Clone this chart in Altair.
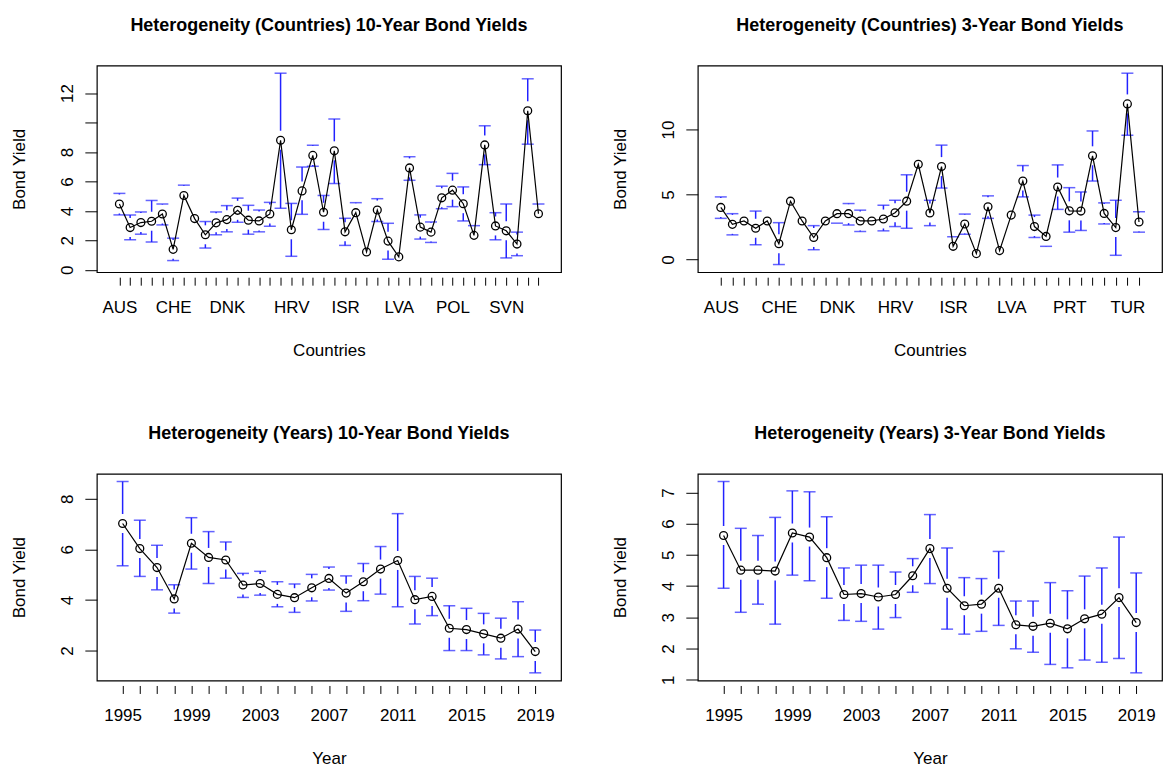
import altair as alt
import pandas as pd

FONT = "Liberation Sans"
BLUE = "#2222ff"

# ---- country panels -------------------------------------------------------
countries_10y = ["AUS", "AUT", "BEL", "BGR", "CAN", "CHE", "CHL", "CYP", "CZE", "DEU",
                 "DNK", "ESP", "FIN", "FRA", "GBR", "GRC", "HRV", "HUN", "IDN", "IRL",
                 "ISL", "ISR", "ITA", "JPN", "KOR", "LTU", "LVA", "MEX", "NLD", "NOR",
                 "NZL", "POL", "PRT", "ROU", "RUS", "SVK", "SVN", "SWE", "TUR", "USA"]
shown_10y = ["AUS", "CHE", "DNK", "HRV", "ISR", "LVA", "POL", "SVN"]
mean_10y_c = [4.47, 2.87, 3.21, 3.30, 3.79, 1.39, 5.05, 3.48, 2.38, 3.19,
              3.41, 4.04, 3.37, 3.32, 3.79, 8.80, 2.72, 5.36, 7.77, 3.91,
              8.08, 2.58, 3.88, 1.21, 4.06, 1.95, 0.88, 6.92, 2.90, 2.56,
              4.89, 5.41, 4.49, 2.34, 8.48, 2.98, 2.65, 1.75, 10.80, 3.81]
lo_10y_c = [3.73, 2.04, 2.42, 1.89, 3.05, 0.63, 4.60, 3.30, 1.48, 2.38,
            2.58, 3.23, 2.42, 2.58, 2.96, 4.18, 0.92, 3.77, 7.03, 2.74,
            5.86, 1.66, 3.40, 1.05, 3.28, 0.72, 0.36, 6.08, 2.09, 1.86,
            4.15, 4.29, 3.32, 1.70, 7.14, 2.04, 0.81, 0.96, 8.53, 3.20]
hi_10y_c = [5.19, 3.73, 3.93, 4.71, 4.47, 2.15, 5.75, 3.70, 3.28, 3.93,
            4.36, 4.87, 4.38, 4.06, 4.58, 13.35, 4.51, 6.98, 8.46, 5.05,
            10.24, 3.50, 4.56, 1.40, 4.83, 3.16, 1.30, 7.68, 3.73, 3.25,
            5.68, 6.55, 5.63, 3.00, 9.78, 3.88, 4.47, 2.56, 12.97, 4.47]

countries_3y = ["AUS", "AUT", "BEL", "BGR", "CAN", "CHE", "CHL", "CYP", "CZE", "DEU",
                "DNK", "ESP", "FIN", "FRA", "GBR", "HRV", "HUN", "IDN", "IRL", "ISL",
                "ISR", "ITA", "JPN", "KOR", "LTU", "LVA", "MEX", "NLD", "NZL", "POL",
                "PRT", "ROU", "RUS", "SVK", "SWE", "TUR", "USA"]
shown_3y = ["AUS", "CHE", "DNK", "HRV", "ISR", "LVA", "PRT", "TUR"]
mean_3y_c = [4.01, 2.71, 2.97, 2.41, 2.97, 1.22, 4.49, 2.97, 1.70, 2.97,
             3.53, 3.53, 2.97, 2.97, 3.12, 3.60, 4.49, 7.33, 3.58, 7.15,
             1.02, 2.74, 0.46, 4.06, 0.69, 3.42, 6.04, 2.54, 1.78, 5.58,
             3.75, 3.73, 7.98, 3.55, 2.46, 11.97, 2.89]
lo_3y_c = [3.17, 1.90, 2.70, 1.14, 2.70, -0.38, 4.00, 2.70, 0.76, 2.30,
           2.80, 2.66, 2.16, 2.50, 2.21, 2.54, 2.41, 6.90, 2.61, 5.50,
           0.30, 1.95, 0.10, 3.17, 0.00, 2.90, 4.82, 1.70, 1.02, 3.86,
           2.11, 2.24, 6.04, 2.74, 0.33, 9.56, 2.11]
hi_3y_c = [4.82, 3.53, 3.25, 3.73, 3.25, 2.84, 5.20, 3.25, 2.61, 3.63,
           4.25, 4.31, 3.80, 3.45, 4.18, 4.56, 6.52, 7.98, 4.56, 8.80,
           1.75, 3.50, 0.90, 4.90, 1.20, 4.00, 7.23, 3.42, 2.40, 7.28,
           5.53, 5.20, 9.89, 4.36, 4.56, 14.33, 3.68]

# ---- year panels ----------------------------------------------------------
years = list(range(1995, 2020))
mean_10y_y = [7.02, 6.03, 5.28, 4.04, 6.24, 5.68, 5.58, 4.59, 4.65, 4.22, 4.09, 4.48, 4.85,
              4.27, 4.72, 5.22, 5.56, 4.01, 4.14, 2.88, 2.83, 2.66, 2.49, 2.85, 1.96]
lo_10y_y = [5.35, 4.93, 4.40, 3.48, 5.22, 4.65, 4.86, 4.10, 4.19, 3.73, 3.51, 3.96, 4.39,
            3.55, 3.97, 4.23, 3.73, 3.05, 3.38, 2.00, 2.00, 1.83, 1.67, 1.76, 1.12]
hi_10y_y = [8.68, 7.15, 6.16, 4.60, 7.25, 6.70, 6.29, 5.05, 5.13, 4.72, 4.63, 5.01, 5.30,
            4.95, 5.44, 6.11, 7.41, 4.93, 4.86, 3.77, 3.67, 3.47, 3.28, 3.93, 2.81]

mean_3y_y = [5.62, 4.51, 4.51, 4.48, 5.70, 5.57, 4.91, 3.73, 3.76, 3.65, 3.73, 4.33, 5.20,
             3.93, 3.37, 3.42, 3.93, 2.76, 2.71, 2.81, 2.63, 2.95, 3.10, 3.63, 2.83]
lo_3y_y = [3.93, 3.16, 3.42, 2.78, 4.35, 4.17, 3.61, 2.90, 2.87, 2.62, 2.99, 3.80, 4.08,
           2.62, 2.46, 2.55, 2.74, 1.99, 1.88, 1.49, 1.38, 1.63, 1.56, 1.68, 1.22]
hi_3y_y = [7.35, 5.85, 5.62, 6.20, 7.05, 7.02, 6.22, 4.58, 4.67, 4.67, 4.45, 4.88, 6.29,
           5.22, 4.27, 4.24, 5.11, 3.52, 3.52, 4.11, 3.85, 4.32, 4.58, 5.57, 4.42]

W = 465
H = 207
GAP_PX = 9.5     # gap kept clear around each mean point, as plotCI does
CAP_W = 12
BAR_W = 1.5


def r_range(lo, hi, ext=0.04):
    mn, mx = min(lo), max(hi)
    r = mx - mn
    return [mn - ext * r, mx + ext * r]


def x_axis(values, label_expr, title):
    return alt.Axis(values=values, tickCount=200, labelExpr=label_expr, format="d",
                    title=title, domain=False, grid=False, offset=5, tickSize=8,
                    tickColor="black", tickWidth=1, labelFont=FONT, labelFontSize=17,
                    labelColor="black", labelPadding=14, labelOverlap=False,
                    labelFlush=False, titleFont=FONT, titleFontSize=17,
                    titleFontWeight="normal", titleColor="black", titleX=W / 2, titleY=73,
                    titleAlign="center", titleBaseline="middle")


def y_axis(values, label_expr, height):
    return alt.Axis(values=values, tickCount=200, labelExpr=label_expr, format="d",
                    title="Bond Yield", domain=False, grid=False, tickSize=12,
                    tickColor="black", tickWidth=1, labelFont=FONT, labelFontSize=17,
                    labelColor="black", labelAngle=270, labelAlign="center",
                    labelBaseline="alphabetic", labelPadding=12, labelOverlap=False,
                    labelFlush=False, titleFont=FONT, titleFontSize=17,
                    titleFontWeight="normal", titleColor="black", titleAngle=270,
                    titleX=-77, titleY=height / 2, titleAlign="center",
                    titleBaseline="middle")


def panel(xs, mean, lo, hi, xdom, height, xax, yvals, ylabels, title):
    ydom = r_range(lo, hi)
    px_per_unit = height / (ydom[1] - ydom[0])
    gap = GAP_PX / px_per_unit
    rows = []
    for xv, m, l, h in zip(xs, mean, lo, hi):
        if h - m > gap:
            rows.append({"x": xv, "end": h, "start": m + gap})
        if m - l > gap:
            rows.append({"x": xv, "end": l, "start": m - gap})
    bars = pd.DataFrame(rows)
    pts = pd.DataFrame({"x": xs, "m": mean})

    xenc = alt.X("x:Q", scale=alt.Scale(domain=xdom, nice=False, zero=False), axis=xax)
    yenc = alt.Y("end:Q", scale=alt.Scale(domain=ydom, nice=False, zero=False),
                 axis=y_axis(yvals, ylabels, height))

    stems = alt.Chart(bars).mark_rule(color=BLUE, strokeWidth=BAR_W).encode(
        x=xenc, y=yenc, y2="start:Q")
    caps = alt.Chart(bars).mark_tick(orient="horizontal", color=BLUE, size=CAP_W,
                                     thickness=BAR_W).encode(x="x:Q", y="end:Q")
    line = alt.Chart(pts).mark_line(color="black", strokeWidth=1.2).encode(
        x="x:Q", y="m:Q")
    dots = alt.Chart(pts).mark_point(shape="circle", filled=False, size=62, color="black",
                                     strokeWidth=1.3, opacity=1).encode(x="x:Q", y="m:Q")
    return alt.layer(stems, caps, line, dots).properties(
        width=W, height=height,
        title=alt.TitleParams(text=title, font=FONT, fontSize=18, fontWeight="bold",
                              color="black", anchor="middle", frame="group",
                              baseline="alphabetic", offset=17))


def country_labels(names, shown):
    arr = ",".join("'%s'" % (n if n in shown else "") for n in names)
    return "[" + arr + "][datum.value]"


year_labels = "(datum.value - 1995) % 4 == 0 ? datum.label : ''"

n10, n3 = len(countries_10y), len(countries_3y)
p1 = panel(list(range(n10)), mean_10y_c, lo_10y_c, hi_10y_c,
           [-0.5 - 0.04 * n10, n10 - 0.5 + 0.04 * n10], H,
           x_axis(list(range(n10)), country_labels(countries_10y, shown_10y), "Countries"),
           [0, 2, 4, 6, 8, 10, 12], "datum.value == 10 ? '' : datum.label",
           "Heterogeneity (Countries) 10-Year Bond Yields")
p2 = panel(list(range(n3)), mean_3y_c, lo_3y_c, hi_3y_c,
           [-0.5 - 0.04 * n3, n3 - 0.5 + 0.04 * n3], H,
           x_axis(list(range(n3)), country_labels(countries_3y, shown_3y), "Countries"),
           [0, 5, 10], "datum.label",
           "Heterogeneity (Countries) 3-Year Bond Yields")
ny = len(years)
xdom_years = [years[0] - 0.5 - 0.04 * ny, years[-1] + 0.5 + 0.04 * ny]
p3 = panel(years, mean_10y_y, lo_10y_y, hi_10y_y, xdom_years, H,
           x_axis(years, year_labels, "Year"),
           [2, 4, 6, 8], "datum.label",
           "Heterogeneity (Years) 10-Year Bond Yields")
p4 = panel(years, mean_3y_y, lo_3y_y, hi_3y_y, xdom_years, H,
           x_axis(years, year_labels, "Year"),
           [1, 2, 3, 4, 5, 6, 7], "datum.label",
           "Heterogeneity (Years) 3-Year Bond Yields")

chart = alt.concat(p1, p2, p3, p4, columns=2, spacing={"row": 202, "column": 137},
                   bounds="flush").properties(
    padding={"left": 10, "top": 15, "right": 0, "bottom": 0},
    background="white",
).configure_view(stroke="black", strokeWidth=1.2)

chart.save("out.html", embed_options={"renderer": "svg", "actions": False})
